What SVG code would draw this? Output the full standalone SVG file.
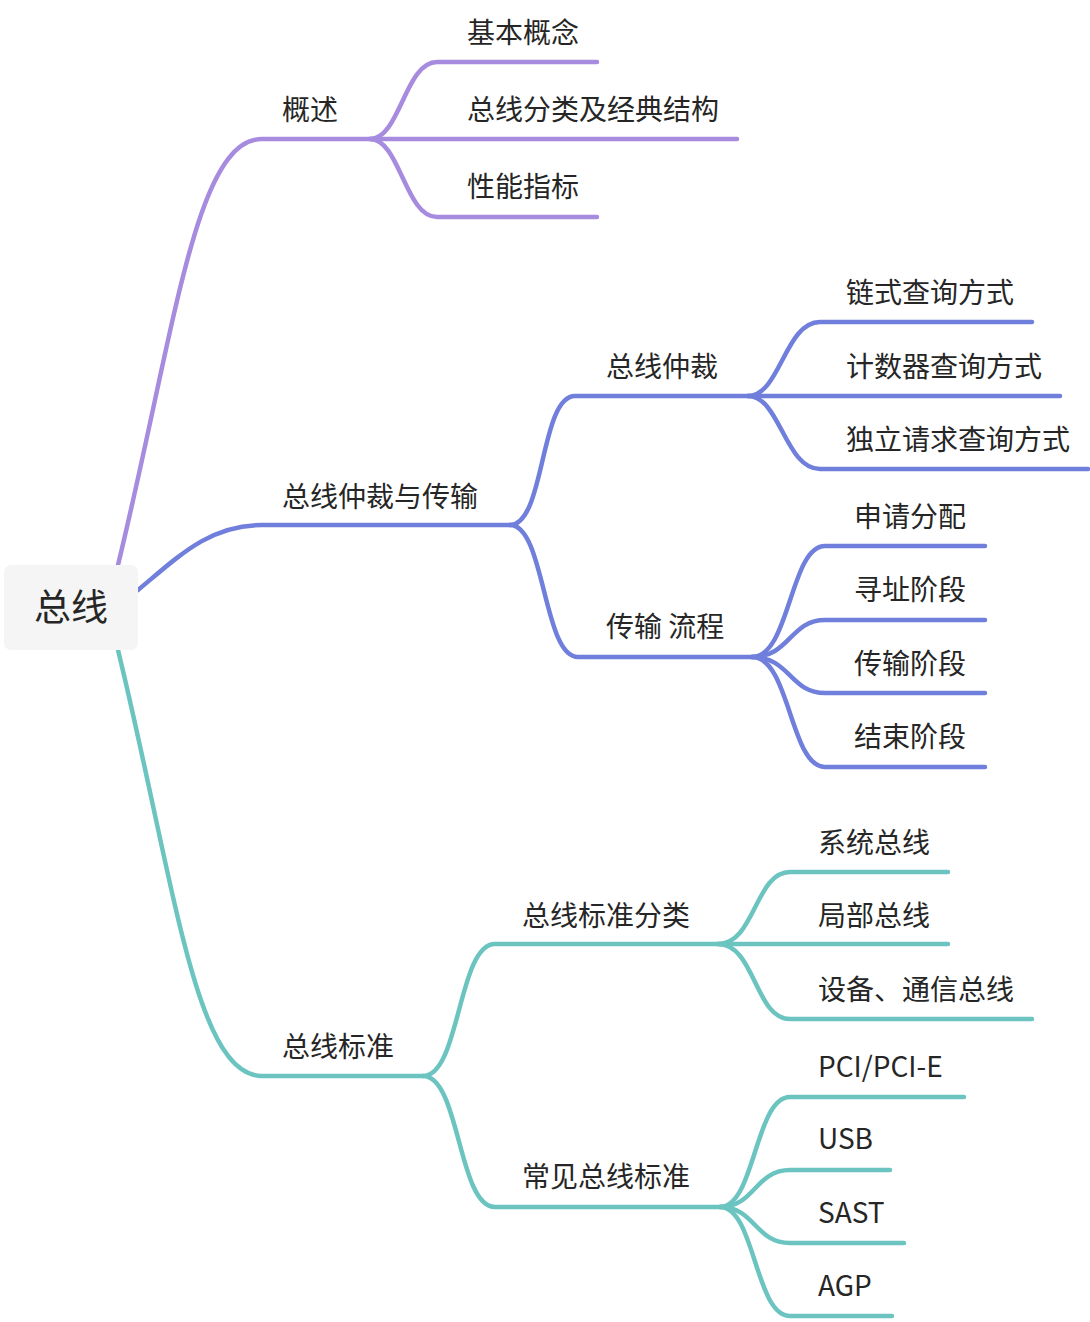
<svg xmlns="http://www.w3.org/2000/svg" width="1090" height="1322" viewBox="0 0 1090 1322">
<style>
.l{fill:none;stroke-width:4.5;stroke-linecap:round;stroke-linejoin:round}
.p{stroke:#A68BDF}.b{stroke:#6F7FDB}.t{stroke:#6CC4C1}
text{font-family:"Noto Sans CJK SC","Microsoft YaHei",sans-serif;font-size:28px;fill:#262626}
</style>
<rect width="1090" height="1322" fill="#ffffff"/>
<g id="connectors">
<path class="l p" d="M118,565 C175,330 195,139 262,139 L370,139"/>
<path class="l p" d="M370,139 C400,139 405,62 437,62 L597,62"/>
<path class="l p" d="M370,139 L737,139"/>
<path class="l p" d="M370,139 C400,139 405,217 437,217 L597,217"/>
<path class="l b" d="M138,590 C180,555 210,525 262,525 L510,525"/>
<path class="l b" d="M510,525 C545,525 540,396 575,396 L748,396"/>
<path class="l b" d="M748,396 C780,396 785,322 820,322 L1032,322"/>
<path class="l b" d="M748,396 L1060,396"/>
<path class="l b" d="M748,396 C780,396 785,469 820,469 L1088,469"/>
<path class="l b" d="M510,525 C545,525 543,657 578,657 L752,657"/>
<path class="l b" d="M752,657 C790,657 790,546 825,546 L985,546"/>
<path class="l b" d="M752,657 C790,657 790,620 825,620 L985,620"/>
<path class="l b" d="M752,657 C790,657 790,693 825,693 L985,693"/>
<path class="l b" d="M752,657 C790,657 790,767 825,767 L985,767"/>
<path class="l t" d="M118,650 C175,885 195,1076 262,1076 L423,1076"/>
<path class="l t" d="M423,1076 C460,1076 458,944 495,944 L718,944"/>
<path class="l t" d="M718,944 C755,944 755,872 790,872 L948,872"/>
<path class="l t" d="M718,944 L948,944"/>
<path class="l t" d="M718,944 C755,944 755,1019 790,1019 L1032,1019"/>
<path class="l t" d="M423,1076 C460,1076 458,1207 495,1207 L720,1207"/>
<path class="l t" d="M720,1207 C755,1207 755,1097 790,1097 L964,1097"/>
<path class="l t" d="M720,1207 C755,1207 755,1170 790,1170 L890,1170"/>
<path class="l t" d="M720,1207 C755,1207 755,1243 790,1243 L904,1243"/>
<path class="l t" d="M720,1207 C755,1207 755,1316 790,1316 L892,1316"/>
</g>
<g id="root"><rect x="4" y="565" width="134" height="85" rx="7" fill="#F5F5F5"/><text x="71" y="621" text-anchor="middle" style="font-size:37px">总线</text></g>
<g id="n1"><text x="282" y="120">概述</text></g>
<g id="n1a"><text x="467" y="43">基本概念</text></g>
<g id="n1b"><text x="467" y="120">总线分类及经典结构</text></g>
<g id="n1c"><text x="467" y="197">性能指标</text></g>
<g id="n2"><text x="282" y="507">总线仲裁与传输</text></g>
<g id="n2a"><text x="606" y="377">总线仲裁</text></g>
<g id="n2a1"><text x="846" y="303">链式查询方式</text></g>
<g id="n2a2"><text x="846" y="377">计数器查询方式</text></g>
<g id="n2a3"><text x="846" y="450">独立请求查询方式</text></g>
<g id="n2b"><text x="606" y="637">传输 流程</text></g>
<g id="n2b1"><text x="854" y="527">申请分配</text></g>
<g id="n2b2"><text x="854" y="600">寻址阶段</text></g>
<g id="n2b3"><text x="854" y="674">传输阶段</text></g>
<g id="n2b4"><text x="854" y="747">结束阶段</text></g>
<g id="n3"><text x="282" y="1057">总线标准</text></g>
<g id="n3a"><text x="522" y="926">总线标准分类</text></g>
<g id="n3a1"><text x="818" y="853">系统总线</text></g>
<g id="n3a2"><text x="818" y="926">局部总线</text></g>
<g id="n3a3"><text x="818" y="1000">设备、通信总线</text></g>
<g id="n3b"><text x="522" y="1187">常见总线标准</text></g>
<g id="n3b1"><text x="818" y="1077">PCI/PCI-E</text></g>
<g id="n3b2"><text x="818" y="1149">USB</text></g>
<g id="n3b3"><text x="818" y="1223">SAST</text></g>
<g id="n3b4"><text x="818" y="1296">AGP</text></g>
</svg>
